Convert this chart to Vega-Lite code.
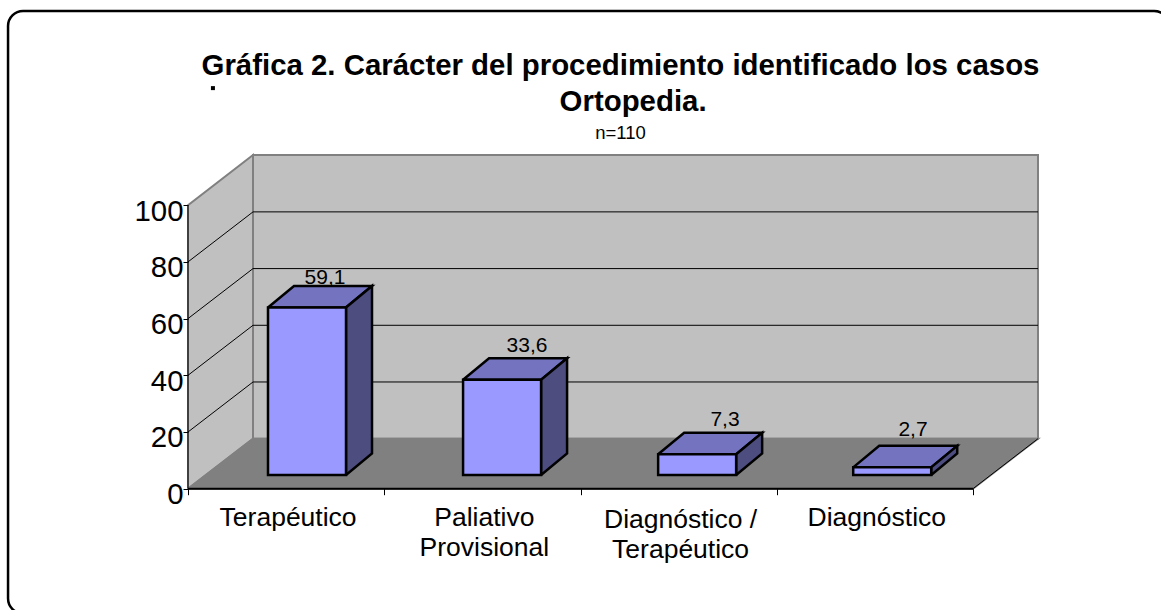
{
"$schema":"https://vega.github.io/schema/vega-lite/v6.json",
"width":1161,"height":610,"autosize":{"type":"none"},"padding":0,"background":"white",
"title":{"text":"Gráfica 2. Carácter del procedimiento identificado los casos","subtitle":"n=110","frame":"group","anchor":"middle","align":"center","dx":40,"offset":-143,"font":"Liberation Sans","fontSize":29.4,"fontWeight":"bold","lineHeight":39,"color":"black","subtitleFont":"Liberation Sans","subtitleFontSize":18.5,"subtitleColor":"black","subtitlePadding":42},
"config":{"view":{"stroke":null},"axis":{"title":null,"grid":false},"font":"Liberation Sans"},
"datasets":{
"bars":[{"categoria":"Terapéutico","porcentaje":59.1},{"categoria":"Paliativo\nProvisional","porcentaje":33.6},{"categoria":"Diagnóstico /\nTerapéutico","porcentaje":7.3},{"categoria":"Diagnóstico","porcentaje":2.7}],
"planes":[{"plano":"left"},{"plano":"floor"}],
"grid":[{"marca":20},{"marca":40},{"marca":60},{"marca":80}]
},
"layer":[
{"data":{"name":"grid"},"mark":{"type":"rule","opacity":0},"encoding":{
 "x":{"datum":0,"type":"quantitative","scale":{"domain":[-0.958,4.958],"nice":false,"zero":false},"axis":{"orient":"bottom","offset":-121.3,"values":[0,1,2,3,4],"labels":false,"domain":false,"tickSize":6,"tickColor":"black","tickWidth":1,"title":null,"zindex":1}},
 "y":{"field":"marca","type":"quantitative","scale":{"domain":[-42.79,172.38],"nice":false,"zero":false},"axis":{"orient":"left","offset":-188,"values":[0,20,40,60,80,100],"domain":false,"tickSize":5,"tickColor":"black","tickWidth":1,"labelFontSize":29.4,"labelFont":"Liberation Sans","labelColor":"black","labelPadding":0,"labelOffset":6,"title":null,"zindex":1}}
}},
{"data":{"values":[{"marco":"chart"}]},"mark":{"type":"rect","filled":false,"stroke":"black","strokeWidth":2.5,"cornerRadius":15},"encoding":{
 "x":{"datum":-0.917,"type":"quantitative"},"x2":{"datum":5},
 "y":{"datum":-44,"type":"quantitative"},"y2":{"datum":168.5}
}},
{"data":{"values":[{"linea":"Ortopedia."}]},"mark":{"type":"text","font":"Liberation Sans","fontSize":29.4,"fontWeight":"bold","align":"center","baseline":"alphabetic","color":"black"},"encoding":{"x":{"datum":2.268,"type":"quantitative"},"y":{"datum":133.3,"type":"quantitative"},"text":{"field":"linea","type":"nominal"}}},
{"data":{"values":[{"resto":"titulo"}]},"mark":{"type":"point","shape":"square","filled":true,"color":"black","opacity":1,"size":16},"encoding":{"x":{"datum":0.127,"type":"quantitative"},"y":{"datum":141.3,"type":"quantitative"}}},
{"data":{"values":[{"plano":"back"}]},"mark":{"type":"rect","fill":"#C0C0C0","stroke":"#808080","strokeWidth":2},"encoding":{
 "x":{"datum":0.3312,"type":"quantitative"},"x2":{"datum":4.3312},
 "y":{"datum":17.64,"type":"quantitative"},"y2":{"datum":117.7}
}},
{"data":{"name":"planes"},"transform":[
 {"calculate":"datum.plano=='left'?[0,0.3312,0.3312,0,0]:[0,0.3312,4.3312,4,0]","as":"vx"},
 {"calculate":"datum.plano=='left'?[0,17.64,117.7,100,0]:[0,17.64,17.64,0,0]","as":"vy"},
 {"calculate":"[0,1,2,3,4]","as":"ord"},
 {"flatten":["vx","vy","ord"]}],
 "mark":{"type":"line","stroke":"#808080","strokeWidth":2,"strokeJoin":"miter","fill":"#C0C0C0"},
 "encoding":{"x":{"field":"vx","type":"quantitative"},"y":{"field":"vy","type":"quantitative"},"detail":{"field":"plano"},"order":{"field":"ord"},
 "fill":{"field":"plano","type":"nominal","scale":{"domain":["left","floor"],"range":["#C0C0C0","#808080"]},"legend":null}}
},
{"data":{"name":"grid"},"transform":[{"calculate":"datum.marca+17.64","as":"atras"}],"layer":[
 {"mark":{"type":"rule","stroke":"black","strokeWidth":1},"encoding":{"x":{"datum":0.3312,"type":"quantitative"},"x2":{"datum":4.3312},"y":{"field":"atras","type":"quantitative"}}},
 {"mark":{"type":"rule","stroke":"black","strokeWidth":1},"encoding":{"x":{"datum":0,"type":"quantitative"},"x2":{"datum":0.3312},"y":{"field":"marca","type":"quantitative"},"y2":{"field":"atras"}}}
]},
{"data":{"values":[{"borde":"left"}]},"mark":{"type":"rule","stroke":"black","strokeWidth":1},"encoding":{"x":{"datum":0,"type":"quantitative"},"y":{"datum":0,"type":"quantitative"},"y2":{"datum":100}}},
{"data":{"values":[{"borde":"front"}]},"mark":{"type":"rule","stroke":"black","strokeWidth":2},"encoding":{"x":{"datum":0,"type":"quantitative"},"x2":{"datum":4},"y":{"datum":0,"type":"quantitative"}}},
{"data":{"values":[{"borde":"right"}]},"mark":{"type":"rule","stroke":"black","strokeWidth":1},"encoding":{"x":{"datum":4,"type":"quantitative"},"x2":{"datum":4.3312},"y":{"datum":0,"type":"quantitative"},"y2":{"datum":17.64}}},
{"data":{"name":"bars"},"transform":[
 {"window":[{"op":"row_number","as":"n"}]},
 {"calculate":"datum.n-1","as":"i"},
 {"calculate":"0.4076+datum.i*0.994","as":"x0"},
 {"calculate":"datum.x0+0.3975","as":"x1"},
 {"calculate":"4.83+datum.porcentaje","as":"vtop"},
 {"calculate":"4.83","as":"vbase"},
 {"calculate":"0.4076+[57,259,457,645][datum.i]/196.25","as":"labx"},
 {"calculate":"datum.vtop+7.58+[2,6,7,10][datum.i]/2.835","as":"laby"},
 {"calculate":"replace(format(datum.porcentaje,'.1f'),'.',',')","as":"etiqueta"},
 {"calculate":"datum.i+0.51","as":"catx"},
 {"calculate":"datum.i==2?-14:-13.16","as":"caty"}],
 "layer":[
 {"mark":{"type":"text","font":"Liberation Sans","fontSize":21,"align":"center","baseline":"alphabetic","color":"black"},"encoding":{"x":{"field":"labx","type":"quantitative"},"y":{"field":"laby","type":"quantitative"},"text":{"field":"etiqueta","type":"nominal"}}},
 {"mark":{"type":"text","font":"Liberation Sans","fontSize":26.5,"align":"center","baseline":"alphabetic","color":"black","lineBreak":"\n","lineHeight":30},"encoding":{"x":{"field":"catx","type":"quantitative"},"y":{"field":"caty","type":"quantitative"},"text":{"field":"categoria","type":"nominal"}}},
 {"transform":[
  {"calculate":"[datum.x0,datum.x1,datum.x1+0.1325,datum.x0+0.1325,datum.x0]","as":"vx"},
  {"calculate":"[datum.vtop,datum.vtop,datum.vtop+7.58,datum.vtop+7.58,datum.vtop]","as":"vy"},
  {"calculate":"[0,1,2,3,4]","as":"ord"},
  {"flatten":["vx","vy","ord"]}],
  "mark":{"type":"line","stroke":"black","strokeWidth":2.5,"strokeJoin":"miter","fill":"#7373BF"},
  "encoding":{"x":{"field":"vx","type":"quantitative"},"y":{"field":"vy","type":"quantitative"},"detail":{"field":"categoria"},"order":{"field":"ord"}}},
 {"transform":[
  {"calculate":"[datum.x1,datum.x1+0.1325,datum.x1+0.1325,datum.x1,datum.x1]","as":"vx"},
  {"calculate":"[datum.vbase,datum.vbase+7.58,datum.vtop+7.58,datum.vtop,datum.vbase]","as":"vy"},
  {"calculate":"[0,1,2,3,4]","as":"ord"},
  {"flatten":["vx","vy","ord"]}],
  "mark":{"type":"line","stroke":"black","strokeWidth":2.5,"strokeJoin":"miter","fill":"#4D4D80"},
  "encoding":{"x":{"field":"vx","type":"quantitative"},"y":{"field":"vy","type":"quantitative"},"detail":{"field":"categoria"},"order":{"field":"ord"}}},
 {"mark":{"type":"rect","fill":"#9999FF","stroke":"black","strokeWidth":2.5},"encoding":{"x":{"field":"x0","type":"quantitative"},"x2":{"field":"x1"},"y":{"field":"vbase","type":"quantitative"},"y2":{"field":"vtop"}}}
 ]}
]
}
